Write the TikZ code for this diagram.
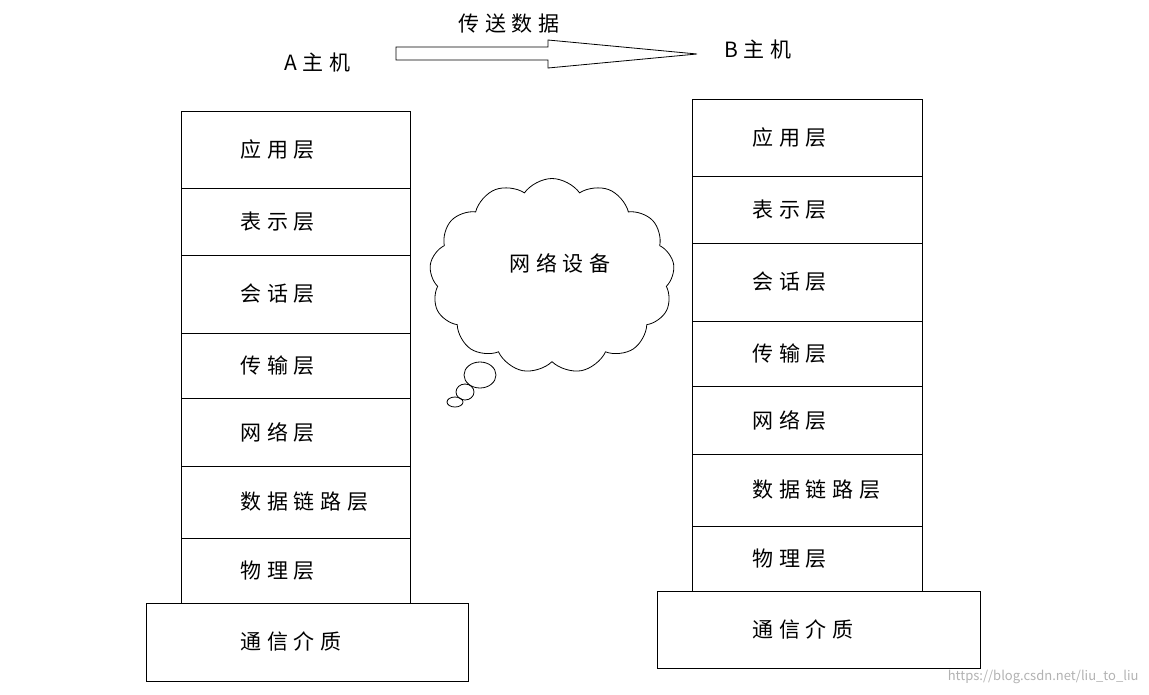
\documentclass[tikz,border=0pt]{standalone}
\usepackage{fontspec}
\setmainfont{Noto Sans CJK SC}[LetterSpace=28]
\newfontfamily\markfont{Noto Sans CJK SC}
\usetikzlibrary{shapes.symbols}
\tikzset{
  box/.style={draw,line width=0.8pt,inner sep=0pt},
  lbl/.style={anchor=west,inner sep=0pt,font=\fontsize{21}{24}\selectfont},
}
\begin{document}
\begin{tikzpicture}[x=1pt,y=-1pt]
\useasboundingbox (0,0) rectangle (1149,694);

% A stack
\foreach \t/\a/\b [count=\i] in {应用层/111/188,表示层/188/255,会话层/255/333,传输层/333/398,网络层/398/466,数据链路层/466/538,物理层/538/603}{
  \draw[box] (181,\a) rectangle (410,\b);
  \node[lbl] (a\i) at (240,{(\a+\b)/2}) {\t};
}
\draw[box] (146,603) rectangle (468,681);
\node[lbl] (amedium) at (240,641) {通信介质};

% B stack
\foreach \t/\a/\b [count=\i] in {应用层/99/176,表示层/176/243,会话层/243/321,传输层/321/386,网络层/386/454,数据链路层/454/526,物理层/526/591}{
  \draw[box] (692,\a) rectangle (922,\b);
  \node[lbl] (b\i) at (752,{(\a+\b)/2}) {\t};
}
\draw[box] (657,591) rectangle (980,668);
\node[lbl] (bmedium) at (752,629) {通信介质};

% hosts and arrow
\node[lbl] (ahost) at (284,63) {A主机};
\node[lbl] (bhost) at (724,50) {B主机};
\node[lbl] (send) at (458,24) {传送数据};
\draw[line width=0.8pt] (396,47) -- (548,47) -- (548,40) -- (697,54) -- (548,68) -- (548,60) -- (396,60) -- cycle;

% cloud
\node[cloud,draw,line width=0.8pt,cloud puffs=13,cloud puff arc=110,aspect=1.3,
  minimum width=245,minimum height=195] (net) at (552,276) {};
\node[lbl] (netlbl) at (509,263) {网络设备};
\draw[line width=0.8pt] (480,375) ellipse (16 and 13);
\draw[line width=0.8pt] (465,392) ellipse (9 and 8);
\draw[line width=0.8pt] (455,402) ellipse (8 and 5);

\node[anchor=east,text=gray!60,font=\markfont\fontsize{13}{15}\selectfont] (mark) at (1142,677) {https://blog.csdn.net/liu\_to\_liu};
\end{tikzpicture}
\end{document}
